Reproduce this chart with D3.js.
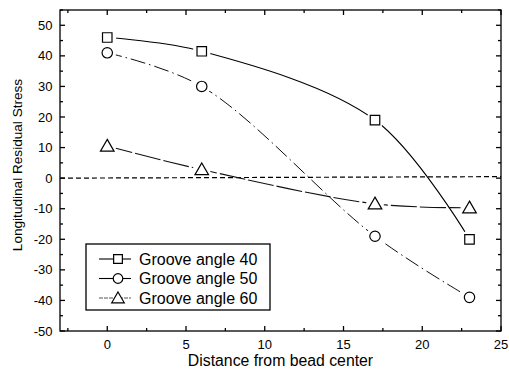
<!DOCTYPE html>
<html>
<head>
<meta charset="utf-8">
<script src="https://cdn.jsdelivr.net/npm/d3@7"></script>
<style>
  html, body { margin: 0; padding: 0; background: #fff; }
  svg { display: block; }
  text { font-family: "Liberation Sans", Arial, Helvetica, sans-serif; fill: #000; }
</style>
</head>
<body>
<svg id="chart" width="509" height="378"></svg>
<script>
// Measured positions along the weld (distance from bead center)
const distances = [0, 6, 17, 23];

// Longitudinal residual stress for each groove angle
const groove40 = [46, 41.5, 19, -20];
const groove50 = [41, 30, -19, -39];
const groove60 = [10.5, 2.8, -8.4, -9.7];

const seriesNames = ["Groove angle 40", "Groove angle 50", "Groove angle 60"];
const xTicks = [0, 5, 10, 15, 20, 25];
const yTicks = [-50, -40, -30, -20, -10, 0, 10, 20, 30, 40, 50];

const svg = d3.select("#chart");
const plot = { left: 60, right: 501, top: 10, bottom: 331 };

const x = d3.scaleLinear().domain([-3, 25]).range([plot.left, plot.right]);
const y = d3.scaleLinear().domain([-50, 55]).range([plot.bottom, plot.top]);

const series = [
  { name: seriesNames[0], values: groove40, symbol: d3.symbolSquare, dash: null, width: 1.1, color: "#000" },
  { name: seriesNames[1], values: groove50, symbol: d3.symbolCircle, dash: "15,4,1.5,4", width: 0.95, color: "#000" },
  { name: seriesNames[2], values: groove60, symbol: d3.symbolTriangle, dash: "26,3", width: 1.1, color: "#111" }
];

// symbol sizes (area) tuned per shape
function sizeFor(sym) {
  if (sym === d3.symbolSquare) return 90;
  if (sym === d3.symbolCircle) return 85;
  return 80;
}
function offsetFor(sym) { return sym === d3.symbolTriangle ? 1.2 : 0; }

// Frame + ticks (inward, mirrored on all four sides)
const minorX = d3.range(-2.5, 25.01, 2.5).filter(v => !xTicks.includes(v));
const minorY = d3.range(-45, 55.01, 10);

const axisG = svg.append("g").attr("stroke", "#000").attr("stroke-width", 1.3);
axisG.append("rect")
  .attr("x", plot.left).attr("y", plot.top)
  .attr("width", plot.right - plot.left).attr("height", plot.bottom - plot.top)
  .attr("fill", "none");

xTicks.forEach(v => {
  axisG.append("line").attr("x1", x(v)).attr("x2", x(v)).attr("y1", plot.bottom).attr("y2", plot.bottom - 5);
  axisG.append("line").attr("x1", x(v)).attr("x2", x(v)).attr("y1", plot.top).attr("y2", plot.top + 5);
});
minorX.forEach(v => {
  axisG.append("line").attr("x1", x(v)).attr("x2", x(v)).attr("y1", plot.bottom).attr("y2", plot.bottom - 3);
  axisG.append("line").attr("x1", x(v)).attr("x2", x(v)).attr("y1", plot.top).attr("y2", plot.top + 3);
});
yTicks.forEach(v => {
  axisG.append("line").attr("y1", y(v)).attr("y2", y(v)).attr("x1", plot.left).attr("x2", plot.left + 5);
  axisG.append("line").attr("y1", y(v)).attr("y2", y(v)).attr("x1", plot.right).attr("x2", plot.right - 5);
});
minorY.forEach(v => {
  axisG.append("line").attr("y1", y(v)).attr("y2", y(v)).attr("x1", plot.left).attr("x2", plot.left + 3);
  axisG.append("line").attr("y1", y(v)).attr("y2", y(v)).attr("x1", plot.right).attr("x2", plot.right - 3);
});

// Tick labels
svg.append("g").selectAll("text").data(xTicks).join("text")
  .attr("x", d => x(d)).attr("y", 348.5)
  .attr("text-anchor", "middle").attr("font-size", 13)
  .text(d => d);
svg.append("g").selectAll("text").data(yTicks).join("text")
  .attr("x", 52.5).attr("y", d => y(d) + 4.6)
  .attr("text-anchor", "end").attr("font-size", 13)
  .text(d => d);

// Axis titles
svg.append("text").attr("x", 280.5).attr("y", 366)
  .attr("text-anchor", "middle").attr("font-size", 15.8)
  .text("Distance from bead center");
svg.append("text")
  .attr("transform", "translate(22,165) rotate(-90)")
  .attr("text-anchor", "middle").attr("font-size", 13.6)
  .text("Longitudinal Residual Stress");

// Zero reference line
svg.append("line")
  .attr("x1", plot.left).attr("x2", plot.right)
  .attr("y1", y(0)).attr("y2", y(0) - 1.5)
  .attr("stroke", "#000").attr("stroke-width", 1.2)
  .attr("stroke-dasharray", "5,3");

// Curves: spline through the measured points, with a gap around each marker
const line = d3.line().x(d => x(d[0])).y(d => y(d[1])).curve(d3.curveCatmullRom.alpha(0.5));
const defs = svg.append("defs");

series.forEach((s, i) => {
  const pts = distances.map((d, j) => [d, s.values[j]]);
  const mask = defs.append("mask").attr("id", "gap" + i)
    .attr("maskUnits", "userSpaceOnUse")
    .attr("x", 0).attr("y", 0).attr("width", 509).attr("height", 378);
  mask.append("rect").attr("width", 509).attr("height", 378).attr("fill", "#fff");
  mask.selectAll("circle").data(pts).join("circle")
    .attr("cx", d => x(d[0])).attr("cy", d => y(d[1])).attr("r", 9).attr("fill", "#000");

  svg.append("path")
    .attr("d", line(pts))
    .attr("fill", "none")
    .attr("stroke", s.color)
    .attr("stroke-width", s.width)
    .attr("stroke-dasharray", s.dash)
    .attr("mask", "url(#gap" + i + ")");

  svg.append("g").selectAll("path").data(pts).join("path")
    .attr("transform", d => `translate(${x(d[0])},${y(d[1]) + offsetFor(s.symbol)})`)
    .attr("d", d3.symbol().type(s.symbol).size(sizeFor(s.symbol)))
    .attr("fill", "#fff").attr("stroke", "#000").attr("stroke-width", 1.2);
});

// Legend
const legend = svg.append("g");
legend.append("rect")
  .attr("x", 86).attr("y", 244).attr("width", 184).attr("height", 66)
  .attr("fill", "#fff").attr("stroke", "#000").attr("stroke-width", 1.3);
const rowY = [259, 278.5, 298];
series.forEach((s, i) => {
  legend.append("line")
    .attr("x1", 99).attr("x2", 131).attr("y1", rowY[i]).attr("y2", rowY[i])
    .attr("stroke", i === 2 ? "#555" : "#000").attr("stroke-width", 1.1)
    .attr("stroke-dasharray", i === 2 ? "4,1" : null);
  legend.append("path")
    .attr("transform", `translate(118,${rowY[i] + offsetFor(s.symbol)})`)
    .attr("d", d3.symbol().type(s.symbol).size(sizeFor(s.symbol) * 0.85))
    .attr("fill", "#fff").attr("stroke", "#000").attr("stroke-width", 1.2);
  legend.append("text")
    .attr("x", 139).attr("y", rowY[i] + 5.6)
    .attr("font-size", 16)
    .text(s.name);
});
</script>
</body>
</html>
